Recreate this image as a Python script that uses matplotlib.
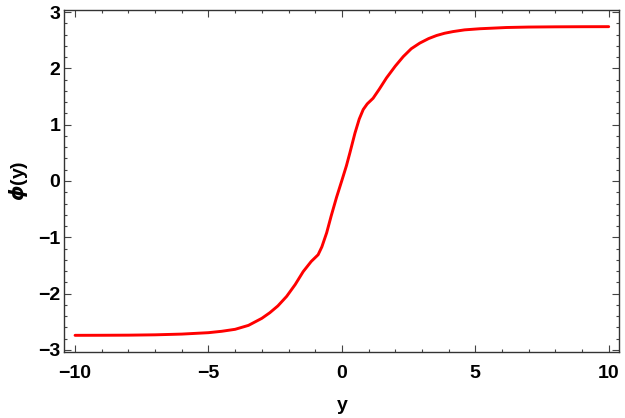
import matplotlib
matplotlib.use("Agg")
import matplotlib.pyplot as plt
from matplotlib.ticker import MultipleLocator

y_vals = [-10, -9, -8, -7, -6, -5, -4.5, -4, -3.5, -3, -2.7, -2.4, -2.07, -1.75,
          -1.45, -1.15, -0.89, -0.75, -0.57, -0.4, -0.2, 0.0, 0.17, 0.3, 0.49,
          0.65, 0.8, 0.95, 1.17, 1.4, 1.67, 2.0, 2.3, 2.6, 2.92, 3.25, 3.55,
          3.85, 4.17, 4.6, 5.17, 6.17, 7, 8, 9, 10]
phi_vals = [-2.742, -2.741, -2.739, -2.733, -2.72, -2.695, -2.67, -2.635, -2.565,
            -2.44, -2.34, -2.22, -2.05, -1.84, -1.61, -1.43, -1.31, -1.17, -0.92,
            -0.62, -0.29, 0.01, 0.27, 0.5, 0.85, 1.1, 1.27, 1.37, 1.47, 1.63, 1.83,
            2.04, 2.21, 2.35, 2.45, 2.53, 2.585, 2.625, 2.655, 2.685, 2.705, 2.727,
            2.735, 2.739, 2.741, 2.742]

x_ticks = [-10, -5, 0, 5, 10]
x_ticklabels = ['\u221210', '\u22125', '0', '5', '10']
y_ticks = [-3, -2, -1, 0, 1, 2, 3]
y_ticklabels = ['\u22123', '\u22122', '\u22121', '0', '1', '2', '3']

plt.rcParams['font.family'] = ['Liberation Sans', 'DejaVu Sans']

fig = plt.figure(figsize=(6.25, 4.18), dpi=100)
ax = fig.add_axes([0.103, 0.159, 0.888, 0.816])
ax.plot(y_vals, phi_vals, color='#ff0000', lw=2.1, solid_capstyle='round',
        solid_joinstyle='round')

ax.set_xlim(-10.4, 10.4)
ax.set_ylim(-3.03, 3.03)
ax.xaxis.set_minor_locator(MultipleLocator(1))
ax.yaxis.set_minor_locator(MultipleLocator(0.2))
ax.tick_params(which='both', direction='in', top=True, right=True,
               color='#444444', width=0.8)
ax.tick_params(which='major', length=5)
ax.tick_params(which='minor', length=2.5)
ax.tick_params(axis='x', pad=9.5)
ax.tick_params(axis='y', pad=3)
ax.set_xticks(x_ticks)
ax.set_xticklabels(x_ticklabels, fontweight='bold', fontsize=14)
ax.set_yticks(y_ticks)
ax.set_yticklabels(y_ticklabels, fontweight='bold', fontsize=14)
for s in ax.spines.values():
    s.set_color('#333333')
    s.set_linewidth(1.0)

ax.set_xlabel('y', fontsize=14, fontweight='bold', labelpad=11)
ax.set_ylabel(r'$\boldsymbol{\phi}$(y)', fontsize=14, fontweight='bold', labelpad=6)

fig.savefig('out.png', dpi=100)
